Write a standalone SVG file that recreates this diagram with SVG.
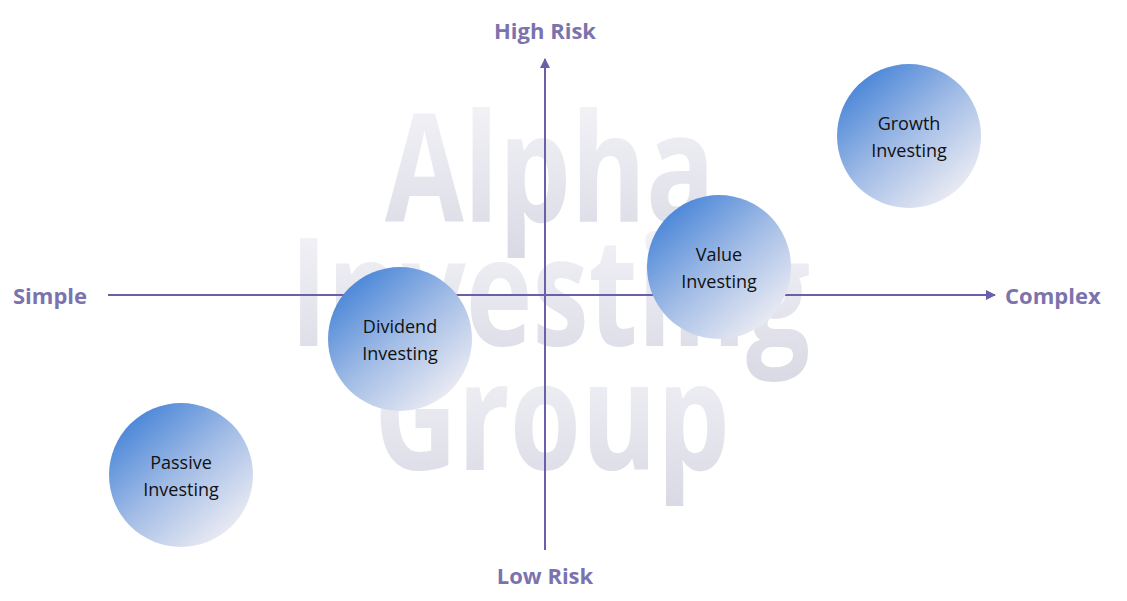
<svg xmlns="http://www.w3.org/2000/svg" width="1127" height="601" viewBox="0 0 1127 601">
<defs>
<linearGradient id="wm" x1="0" y1="0" x2="0" y2="1"><stop offset="0" stop-color="#f8f8fb"/><stop offset="1" stop-color="#d8d8e4"/></linearGradient>
<linearGradient id="cg" x1="0.15" y1="0.1" x2="0.85" y2="0.9"><stop offset="0" stop-color="#4a86d8"/><stop offset="0.5" stop-color="#a3bde6"/><stop offset="1" stop-color="#ececf3"/></linearGradient>
<marker id="ar" viewBox="0 0 10 10" refX="9" refY="5" markerWidth="10" markerHeight="10" markerUnits="userSpaceOnUse" orient="auto"><path d="M0,0 L10,5 L0,10 z" fill="#6a5fa8"/></marker>
<style>
.wm{font-family:"Open Sans","Liberation Sans",sans-serif;font-weight:bold;font-size:150px;fill:url(#wm);text-anchor:middle}
.ax{font-family:"Open Sans","Liberation Sans",sans-serif;font-weight:bold;font-size:22px;fill:#7b73ad}
.nt{font-family:"Open Sans","Liberation Sans",sans-serif;font-size:18px;fill:#111;text-anchor:middle}
.ln{stroke:#6a5fa8;stroke-width:2;fill:none;marker-end:url(#ar)}
</style>
</defs>
<rect width="1127" height="601" fill="#fff"/>
<g id="watermark">
<text class="wm" x="550" y="222" textLength="330" lengthAdjust="spacingAndGlyphs">Alpha</text>
<text class="wm" x="550" y="346" textLength="520" lengthAdjust="spacingAndGlyphs">Investing</text>
<text class="wm" x="552" y="470" textLength="356" lengthAdjust="spacingAndGlyphs">Group</text>
</g>
<g id="connectors">
<line class="ln" x1="108" y1="295" x2="995" y2="295"/>
<line class="ln" x1="545" y1="550" x2="545" y2="59"/>
</g>
<g id="labels">
<text class="ax" x="545" y="39" text-anchor="middle">High Risk</text>
<text class="ax" x="545" y="584" text-anchor="middle">Low Risk</text>
<text class="ax" x="13" y="304">Simple</text>
<text class="ax" x="1005" y="304">Complex</text>
</g>
<g id="growth"><circle cx="909" cy="136" r="72" fill="url(#cg)"/><text class="nt" x="909" y="130">Growth</text><text class="nt" x="909" y="157">Investing</text></g>
<g id="value"><circle cx="719" cy="267" r="72" fill="url(#cg)"/><text class="nt" x="719" y="261">Value</text><text class="nt" x="719" y="288">Investing</text></g>
<g id="dividend"><circle cx="400" cy="339" r="72" fill="url(#cg)"/><text class="nt" x="400" y="333">Dividend</text><text class="nt" x="400" y="360">Investing</text></g>
<g id="passive"><circle cx="181" cy="475" r="72" fill="url(#cg)"/><text class="nt" x="181" y="469">Passive</text><text class="nt" x="181" y="496">Investing</text></g>
</svg>
